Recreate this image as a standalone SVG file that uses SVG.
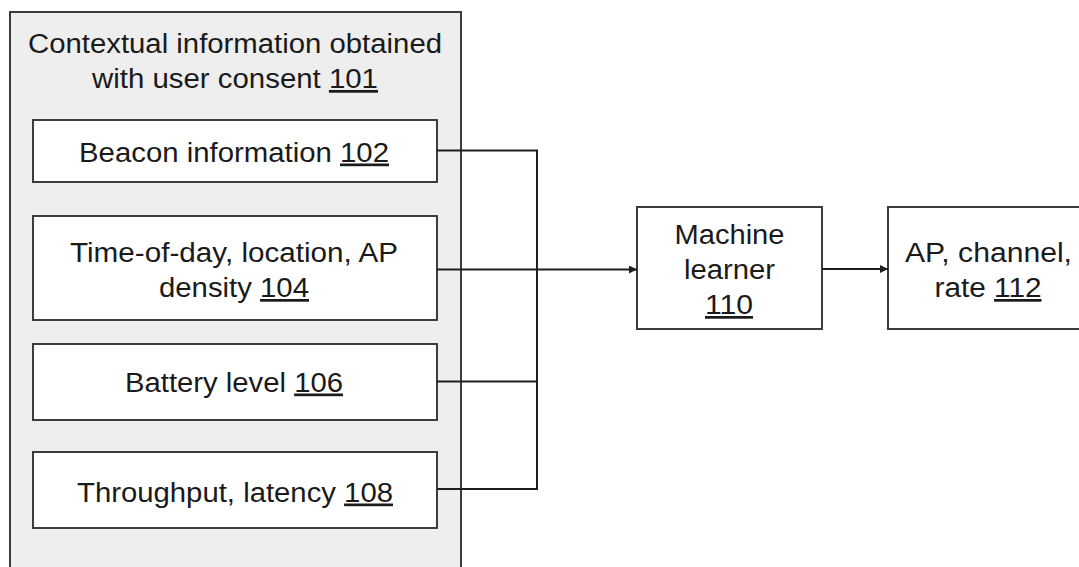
<svg xmlns="http://www.w3.org/2000/svg" width="1079" height="567" viewBox="0 0 1079 567">
  <style>
    .box { fill: #ffffff; stroke: #3c3c3c; stroke-width: 2; }
    .group { fill: #eeeeee; stroke: #3c3c3c; stroke-width: 2; }
    .wire { fill: none; stroke: #1e1e1e; stroke-width: 2; }
    text { font-family: "Liberation Sans", Arial, sans-serif; font-size: 27px; fill: #1a1a1a; text-anchor: middle; }
    .ref { text-decoration: underline; }
  </style>
  <defs>
    <marker id="arrow" viewBox="0 0 10 10" refX="10" refY="5" markerWidth="10" markerHeight="8" markerUnits="userSpaceOnUse" orient="auto">
      <path d="M0,0 L10,5 L0,10 z" fill="#1e1e1e"/>
    </marker>
  </defs>

  <!-- Container for the contextual inputs -->
  <g id="context-101">
    <rect class="group" x="10" y="12" width="451" height="570"/>
    <text x="235" y="53" textLength="414" lengthAdjust="spacingAndGlyphs">Contextual information obtained</text>
    <text x="235" y="88" textLength="286" lengthAdjust="spacingAndGlyphs">with user consent <tspan class="ref">101</tspan></text>
  </g>

  <g id="beacon-102">
    <rect class="box" x="33" y="120" width="404" height="62"/>
    <text x="234" y="161.5" textLength="310" lengthAdjust="spacingAndGlyphs">Beacon information <tspan class="ref">102</tspan></text>
  </g>

  <g id="time-location-104">
    <rect class="box" x="33" y="216" width="404" height="104"/>
    <text x="234" y="261.5" textLength="328" lengthAdjust="spacingAndGlyphs">Time-of-day, location, AP</text>
    <text x="234" y="297" textLength="150" lengthAdjust="spacingAndGlyphs">density <tspan class="ref">104</tspan></text>
  </g>

  <g id="battery-106">
    <rect class="box" x="33" y="344" width="404" height="76"/>
    <text x="234" y="391.5" textLength="218" lengthAdjust="spacingAndGlyphs">Battery level <tspan class="ref">106</tspan></text>
  </g>

  <g id="throughput-108">
    <rect class="box" x="33" y="452" width="404" height="76"/>
    <text x="235" y="501.5" textLength="316" lengthAdjust="spacingAndGlyphs">Throughput, latency <tspan class="ref">108</tspan></text>
  </g>

  <g id="machine-learner-110">
    <rect class="box" x="637" y="207" width="185" height="122"/>
    <text x="729.5" y="244" textLength="110" lengthAdjust="spacingAndGlyphs">Machine</text>
    <text x="729.5" y="279" textLength="91" lengthAdjust="spacingAndGlyphs">learner</text>
    <text x="729" y="314" textLength="48" lengthAdjust="spacingAndGlyphs" class="ref">110</text>
  </g>

  <g id="output-112">
    <rect class="box" x="888" y="207" width="200" height="122"/>
    <text x="988.5" y="261.5" textLength="167" lengthAdjust="spacingAndGlyphs">AP, channel,</text>
    <text x="988" y="297" textLength="107" lengthAdjust="spacingAndGlyphs">rate <tspan class="ref">112</tspan></text>
  </g>

  <!-- Connectors: inputs merge on a bus into the learner, learner feeds the output -->
  <g id="connectors">
    <path class="wire" d="M437,150.5 H537 V489 H437"/>
    <path class="wire" d="M437,381.5 H537"/>
    <path class="wire" d="M437,269.5 H637" marker-end="url(#arrow)"/>
    <path class="wire" d="M822,269 H888" marker-end="url(#arrow)"/>
  </g>
</svg>
